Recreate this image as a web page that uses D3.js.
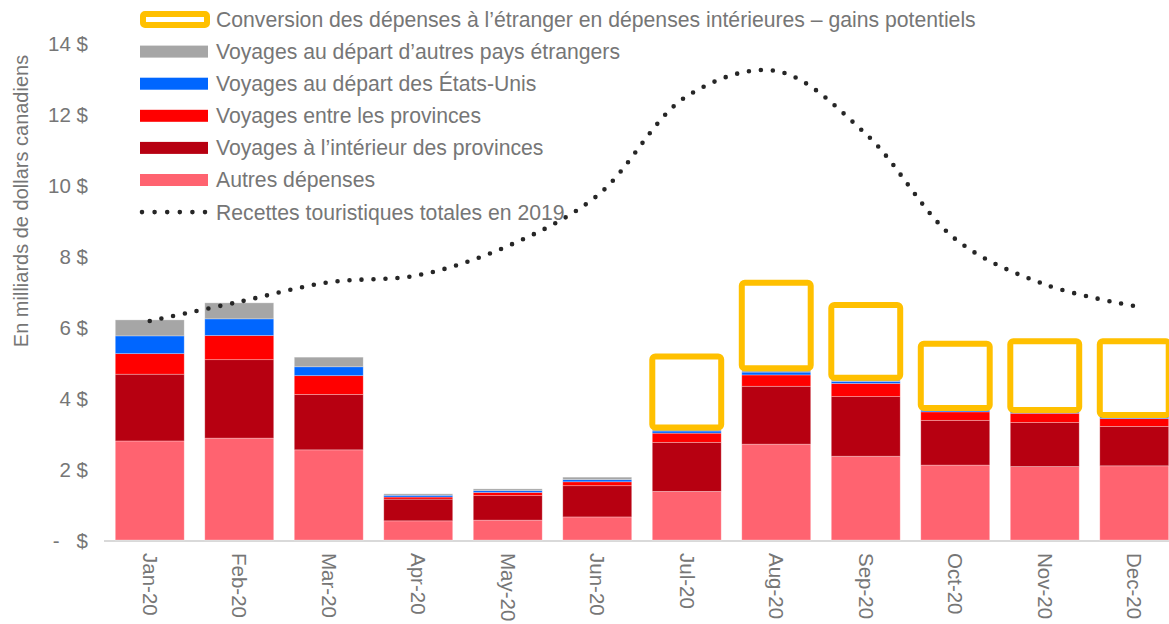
<!DOCTYPE html>
<html>
<head>
<meta charset="utf-8">
<script src="https://cdn.jsdelivr.net/npm/d3@7"></script>
<style>
    body { margin: 0; background: #fff; }
    text { font-family: "Liberation Sans", Arial, sans-serif; fill: #767676; }
</style>
</head>
<body>
<div id="chart"></div>
<script>
const months = ["Jan-20", "Feb-20", "Mar-20", "Apr-20", "May-20", "Jun-20",
    "Jul-20", "Aug-20", "Sep-20", "Oct-20", "Nov-20", "Dec-20"];

// stacked series, bottom to top (milliards $)
const autresDepenses = [2.79, 2.87, 2.54, 0.54, 0.56, 0.65, 1.37, 2.70, 2.36, 2.11, 2.07, 2.09];
const voyagesInterieur = [1.88, 2.21, 1.56, 0.61, 0.69, 0.88, 1.38, 1.63, 1.68, 1.26, 1.24, 1.11];
const voyagesEntre = [0.58, 0.68, 0.53, 0.06, 0.09, 0.11, 0.26, 0.32, 0.37, 0.24, 0.26, 0.22];
const voyagesEtatsUnis = [0.50, 0.47, 0.25, 0.05, 0.05, 0.06, 0.06, 0.08, 0.06, 0.05, 0.04, 0.05];
const voyagesAutresPays = [0.45, 0.45, 0.27, 0.04, 0.05, 0.07, 0.10, 0.11, 0.10, 0.06, 0.05, 0.05];
const gainsPotentiels = [0, 0, 0, 0, 0, 0, 2.00, 2.41, 2.05, 1.81, 1.94, 2.08];

// line
const recettes2019 = [6.17, 6.71, 7.26, 7.46, 8.28, 9.70, 12.50, 13.21, 11.44, 8.48, 7.20, 6.59];

const yTicks = [0, 2, 4, 6, 8, 10, 12, 14];

const series = [
    { key: "autres", label: "Autres dépenses", values: autresDepenses, color: "#ff6370" },
    { key: "interieur", label: "Voyages à l’intérieur des provinces", values: voyagesInterieur, color: "#b70011" },
    { key: "entre", label: "Voyages entre les provinces", values: voyagesEntre, color: "#ff0000" },
    { key: "us", label: "Voyages au départ des États-Unis", values: voyagesEtatsUnis, color: "#0066ff" },
    { key: "autresPays", label: "Voyages au départ d’autres pays étrangers", values: voyagesAutresPays, color: "#a6a6a6" },
    { key: "gains", label: "Conversion des dépenses à l’étranger en dépenses intérieures – gains potentiels", values: gainsPotentiels, color: "#ffc000" }
];

const lineLabel = "Recettes touristiques totales en 2019";

const width = 1169;
const height = 624;
const fontSize = "21.2px";

function init() {
    const svg = d3.select("#chart").append("svg")
        .attr("width", width)
        .attr("height", height);

    const x = d3.scaleBand()
        .domain(months)
        .range([105, 1179])
        .paddingInner(0.23)
        .paddingOuter(0.115);

    const y = d3.scaleLinear()
        .domain([0, 14])
        .range([540, 43]);

    drawAxes(svg, x, y);
    drawBars(svg, x, y);
    drawLegend(svg);
    drawLine(svg, x, y);
}

function drawAxes(svg, x, y) {
    // y tick labels, Excel accounting style
    const yAxis = d3.axisLeft(y)
        .tickValues(yTicks)
        .tickSize(0)
        .tickPadding(0)
        .tickFormat(d => d === 0 ? "-\u00a0\u00a0\u00a0$" : `${d} $`);

    const gy = svg.append("g")
        .attr("transform", "translate(88,0)")
        .call(yAxis);
    gy.select(".domain").remove();
    gy.selectAll("text")
        .style("font-size", "20.5px")
        .attr("fill", "#767676")
        .attr("dy", "0.35em");

    svg.append("text")
        .attr("transform", "translate(28,201) rotate(-90)")
        .attr("text-anchor", "middle")
        .style("font-size", "20px")
        .text("En milliards de dollars canadiens");

    // baseline
    svg.append("line")
        .attr("x1", 104)
        .attr("x2", width)
        .attr("y1", y(0) + 1)
        .attr("y2", y(0) + 1)
        .attr("stroke", "#d9d9d9")
        .attr("stroke-width", 2);

    const xAxis = d3.axisBottom(x).tickSize(0).tickPadding(0);
    const gx = svg.append("g")
        .attr("transform", `translate(0,${y(0)})`)
        .call(xAxis);
    gx.select(".domain").remove();
    gx.selectAll("text")
        .style("font-size", "20.5px")
        .attr("fill", "#767676")
        .attr("text-anchor", "start")
        .attr("x", 0)
        .attr("y", 0)
        .attr("dy", "0.35em")
        .attr("transform", "translate(0,13) rotate(90)");
}

function drawBars(svg, x, y) {
    const table = months.map((m, i) => {
        const row = { month: m };
        series.forEach(s => { row[s.key] = s.values[i]; });
        return row;
    });

    const stacked = d3.stack().keys(series.map(s => s.key))(table);

    const groups = svg.append("g")
        .selectAll("g")
        .data(stacked.slice(0, 5))
        .join("g")
        .attr("fill", (d, i) => series[i].color);

    groups.selectAll("rect")
        .data(d => d)
        .join("rect")
        .attr("x", d => x(d.data.month))
        .attr("width", x.bandwidth())
        .attr("y", d => y(d[1]))
        .attr("height", d => y(d[0]) - y(d[1]))
        .attr("stroke", "#fff")
        .attr("stroke-opacity", 0.35)
        .attr("stroke-width", 0.8);

    const gains = stacked[5];
    svg.append("g")
        .selectAll("rect")
        .data(gains.filter(d => d[1] - d[0] > 0))
        .join("rect")
        .attr("x", d => x(d.data.month))
        .attr("width", x.bandwidth())
        .attr("y", d => y(d[1]))
        .attr("height", d => y(d[0]) - y(d[1]))
        .attr("rx", 3)
        .attr("fill", "none")
        .attr("stroke", series[5].color)
        .attr("stroke-width", 6);
}

function drawLegend(svg) {
    const order = [5, 4, 3, 2, 1, 0];
    const rowY = i => 19.5 + i * 32.1;
    const legend = svg.append("g");

    order.forEach((si, i) => {
        const s = series[si];
        if (s.key === "gains") {
            legend.append("rect")
                .attr("x", 143).attr("y", rowY(i) - 5.5)
                .attr("width", 64).attr("height", 11)
                .attr("rx", 2)
                .attr("fill", "#fff")
                .attr("stroke", s.color)
                .attr("stroke-width", 6);
        } else {
            legend.append("rect")
                .attr("x", 140).attr("y", rowY(i) - 6)
                .attr("width", 68).attr("height", 12)
                .attr("fill", s.color);
        }
        legend.append("text")
            .attr("x", 216).attr("y", rowY(i))
            .attr("dy", "0.35em")
            .style("font-size", fontSize)
            .text(s.label);
    });

    const ly = rowY(6);
    legend.append("line")
        .attr("x1", 142).attr("x2", 206)
        .attr("y1", ly).attr("y2", ly)
        .attr("stroke", "#262626")
        .attr("stroke-width", 4.6)
        .attr("stroke-linecap", "round")
        .attr("stroke-dasharray", "0 12.6");
    legend.append("text")
        .attr("x", 216).attr("y", ly)
        .attr("dy", "0.35em")
        .style("font-size", fontSize)
        .text(lineLabel);
}

function drawLine(svg, x, y) {
    const line = d3.line()
        .x((d, i) => x(months[i]) + x.bandwidth() / 2)
        .y(d => y(d))
        .curve(d3.curveCatmullRom.alpha(0.5));

    svg.append("path")
        .datum(recettes2019)
        .attr("d", line)
        .attr("fill", "none")
        .attr("stroke", "#262626")
        .attr("stroke-width", 4.6)
        .attr("stroke-linecap", "round")
        .attr("stroke-dasharray", "0 12");
}

init();
</script>
</body>
</html>
